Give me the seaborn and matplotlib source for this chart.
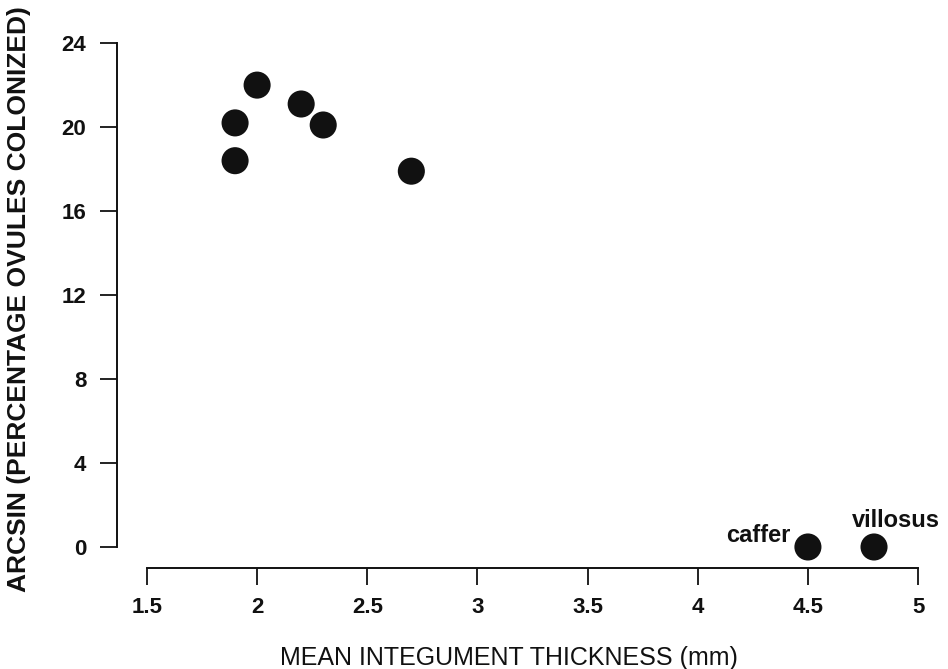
import matplotlib
matplotlib.use("Agg")
import matplotlib.pyplot as plt
import seaborn as sns
import pandas as pd

thickness = [1.9, 1.9, 2.0, 2.2, 2.3, 2.7, 4.5, 4.8]
arcsin_colonized = [20.2, 18.4, 22.0, 21.1, 20.1, 17.9, 0.0, 0.0]
point_labels = ["", "", "", "", "", "", "caffer", "villosus"]
x_ticks = [1.5, 2, 2.5, 3, 3.5, 4, 4.5, 5]
x_tick_labels = ["1.5", "2", "2.5", "3", "3.5", "4", "4.5", "5"]
y_ticks = [0, 4, 8, 12, 16, 20, 24]

df = pd.DataFrame({"thickness": thickness, "arcsin": arcsin_colonized, "label": point_labels})

sns.set_style("ticks")
plt.rcParams["font.family"] = ["Liberation Sans", "DejaVu Sans"]

fig = plt.figure(figsize=(9.48, 6.69), dpi=100)
ax = fig.add_axes([0.1234, 0.151, 0.981 - 0.1234, 0.955 - 0.151])

sns.scatterplot(data=df, x="thickness", y="arcsin", color="#111111", s=380,
	edgecolor="none", ax=ax, legend=False)

# species labels
for _, row in df.iterrows():
	if row["label"] == "caffer":
		ax.text(row["thickness"] - 0.08, row["arcsin"] + 0.55, row["label"], ha="right",
			va="center", fontsize=17, fontweight="bold", color="#111111")
	elif row["label"] == "villosus":
		ax.text(row["thickness"] + 0.1, row["arcsin"] + 1.25, row["label"], ha="center",
			va="center", fontsize=17, fontweight="bold", color="#111111")

ax.set_xlim(1.364, 5.054)
ax.set_ylim(-1.0, 24.62)
ax.set_xticks(x_ticks)
ax.set_xticklabels(x_tick_labels)
ax.set_yticks(y_ticks)

ax.spines["top"].set_visible(False)
ax.spines["right"].set_visible(False)
ax.spines["left"].set_bounds(0, 24)
ax.spines["bottom"].set_bounds(1.5, 5)
for sp in ["left", "bottom"]:
	ax.spines[sp].set_linewidth(1.4)
	ax.spines[sp].set_color("#111111")

ax.tick_params(axis="both", length=12, width=1.3, colors="#111111", labelsize=16, pad=9)
ax.tick_params(axis="y", pad=10)
for lab in ax.get_xticklabels() + ax.get_yticklabels():
	lab.set_fontweight("bold")

ax.set_xlabel("MEAN INTEGUMENT THICKNESS (mm)", fontsize=18, color="#111111")
ax.set_ylabel("ARCSIN (PERCENTAGE OVULES COLONIZED)", fontsize=19, fontweight="bold",
	color="#111111")
ax.xaxis.set_label_coords(0.482, -0.145)
ax.yaxis.set_label_coords(-0.106, 0.5)

fig.savefig("out.png", dpi=100)
plt.close(fig)
